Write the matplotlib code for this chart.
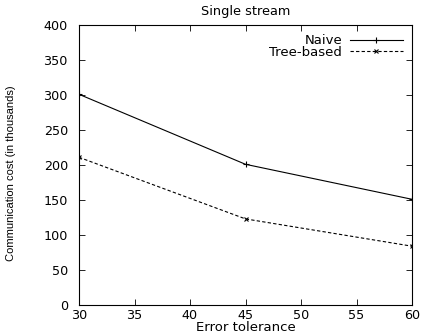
import matplotlib
matplotlib.use("Agg")
import matplotlib.pyplot as plt

plt.rcParams['font.family'] = ['DejaVu Sans']

x = [30, 45, 60]
naive = [301, 201, 151]
tree = [211, 123, 84]
xticks = [30, 35, 40, 45, 50, 55, 60]
yticks = [0, 50, 100, 150, 200, 250, 300, 350, 400]

fig = plt.figure(figsize=(4.22, 3.34), dpi=100)
ax = fig.add_axes([79/422, 1-305/334, (412-79)/422, (305-25)/334])
ax.plot(x, naive, color='black', lw=0.8, marker='+', ms=4, mew=0.8, label='Naive')
ax.plot(x, tree, color='black', lw=0.8, ls=(0, (3, 2)), marker='x', ms=3.5, mew=0.8, label='Tree-based')
ax.set_xlim(30, 60)
ax.set_ylim(0, 400)
ax.set_xticks(xticks)
ax.set_yticks(yticks)
ax.tick_params(direction='in', top=True, right=True, length=4, width=0.6, labelsize=9.2)
ax.tick_params(axis='y', pad=8)
ax.tick_params(axis='x', pad=3)
for s in ax.spines.values():
    s.set_linewidth(0.8)
ax.set_title('Single stream', fontsize=9.3, pad=7)
ax.set_xlabel('Error tolerance', fontsize=9.5, labelpad=-1)
ax.set_ylabel('Communication cost (in thousands)', fontsize=8,
              family=['Liberation Sans', 'DejaVu Sans'])
ax.yaxis.set_label_coords(-63/333, 0.47)
leg = ax.legend(loc='upper right', frameon=False, fontsize=9.5, handlelength=4,
                markerfirst=False, borderaxespad=0.3, labelspacing=-0.1, handletextpad=0.6)
fig.savefig('out.png', dpi=100)
